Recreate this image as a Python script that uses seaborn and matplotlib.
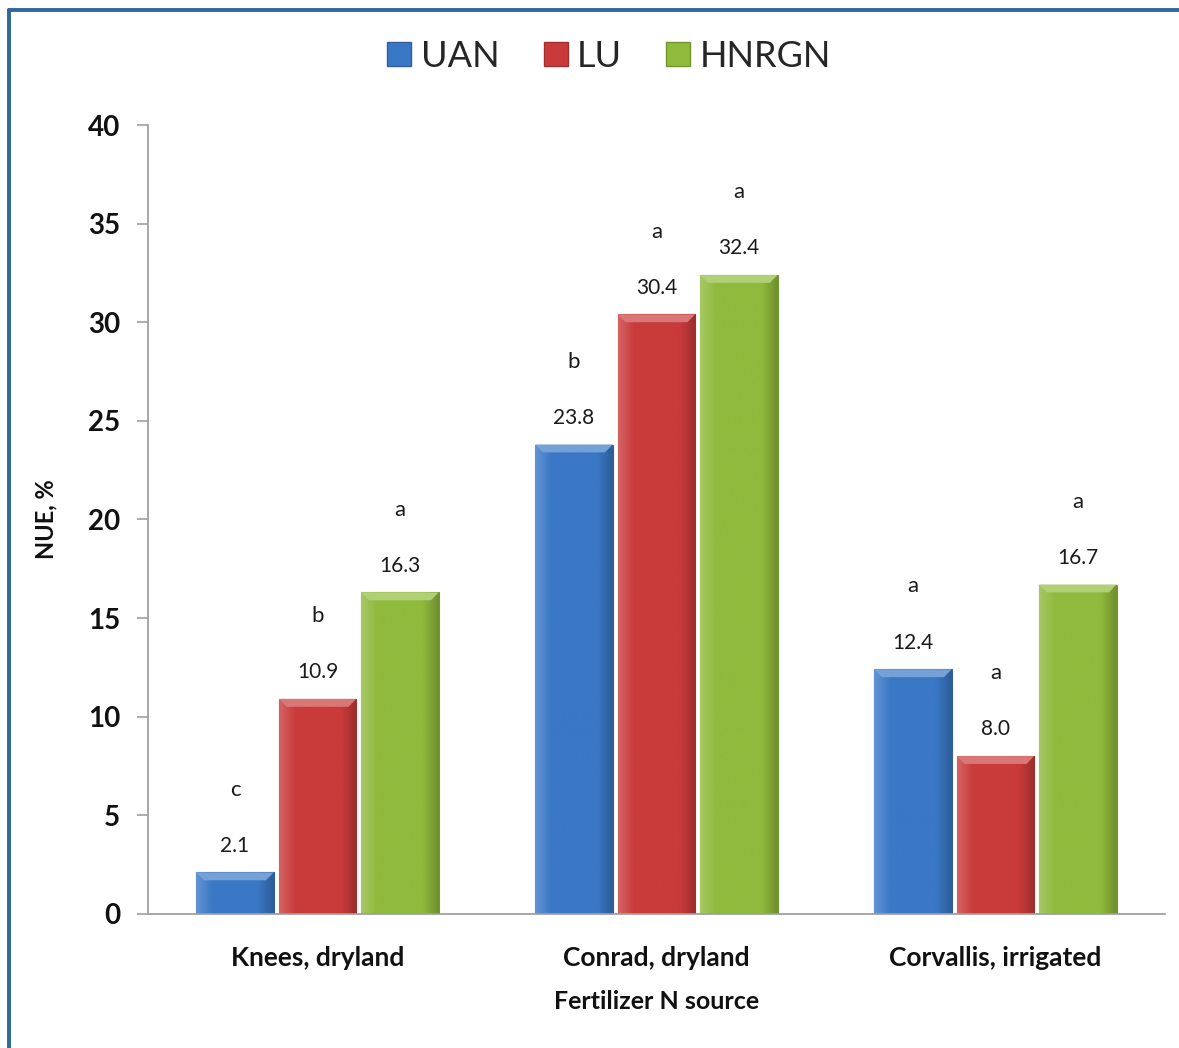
import numpy as np
import pandas as pd
import matplotlib
matplotlib.use("Agg")
import matplotlib.pyplot as plt
import matplotlib.colors as mcolors
from matplotlib.patches import Polygon
from matplotlib.lines import Line2D
import seaborn as sns

# chart data
sites = ["Knees, dryland", "Conrad, dryland", "Corvallis, irrigated"]
sources = ["UAN", "LU", "HNRGN"]
uan = [2.1, 23.8, 12.4]
lu = [10.9, 30.4, 8.0]
hnrgn = [16.3, 32.4, 16.7]
uan_letters = ["c", "b", "a"]
lu_letters = ["b", "a", "a"]
hnrgn_letters = ["a", "a", "a"]
colors = {"UAN": "#3a78c6", "LU": "#c93b3b", "HNRGN": "#8fba3c"}

df = pd.DataFrame({
    "site": sites * 3,
    "source": ["UAN"] * 3 + ["LU"] * 3 + ["HNRGN"] * 3,
    "nue": uan + lu + hnrgn,
    "letter": uan_letters + lu_letters + hnrgn_letters,
})

sns.set_style("white")
plt.rcParams["font.family"] = ["Lato", "DejaVu Sans"]

fig = plt.figure(figsize=(11.79, 10.48), dpi=100)
ax = fig.add_axes([0.1255, 0.128, 0.8625, 0.7527])

sns.barplot(data=df, x="site", y="nue", hue="source", order=sites,
            hue_order=sources, palette=colors, width=0.73, gap=0.06,
            errorbar=None, legend=False, ax=ax, saturation=1)

# bevel-ish shading on each bar
def shade(c, f):
    r = np.array(mcolors.to_rgb(c))
    if f > 0:
        return tuple(r + (1 - r) * f)
    return tuple(r * (1 + f))

bars = [p for p in ax.patches if p.get_height() > 0]
for p in bars:
    base = p.get_facecolor()[:3]
    x0, y0 = p.get_x(), p.get_y()
    w, h = p.get_width(), p.get_height()
    prof = np.concatenate([np.linspace(0.2, 0.0, 8), np.zeros(20), np.linspace(0.0, -0.22, 8)])
    img = np.array([[shade(base, f) for f in prof]])
    im = ax.imshow(img, extent=[x0, x0 + w, y0, y0 + h], aspect="auto",
                   interpolation="bicubic", zorder=p.get_zorder() + 0.1)
    im.set_clip_path(p)
    cap = min(0.4, h * 0.4)
    inset = w * 0.1
    ax.add_patch(Polygon([[x0, y0 + h], [x0 + w, y0 + h],
                          [x0 + w - inset, y0 + h - cap], [x0 + inset, y0 + h - cap]],
                         closed=True, facecolor=shade(base, 0.3), edgecolor="none",
                         zorder=p.get_zorder() + 0.2))
    p.set_edgecolor(shade(base, -0.2))
    p.set_linewidth(0.8)

# value labels and letters
for p in bars:
    xc = p.get_x() + p.get_width() / 2
    h = p.get_height()
    row = df[np.isclose(df["nue"], h)].iloc[0]
    ax.text(xc, h + 1.35, f"{h:.1f}", ha="center", va="center", fontsize=15, color="#1a1a1a")
    ax.text(xc, h + 4.2, row["letter"], ha="center", va="center", fontsize=16, color="#1a1a1a")

ax.set_ylim(0, 40)
ax.set_xlim(-0.5, 2.5)
ax.set_yticks(np.arange(0, 41, 5))
ax.tick_params(axis="y", which="both", left=True, length=8, width=1.2, color="#a0a0a0",
               labelsize=20, pad=12, labelcolor="#111111")
ax.tick_params(axis="x", bottom=False, labelsize=19, pad=20, labelcolor="#111111")
for lab in ax.get_yticklabels() + ax.get_xticklabels():
    lab.set_fontweight("bold")
for s in ["top", "right"]:
    ax.spines[s].set_visible(False)
for s in ["left", "bottom"]:
    ax.spines[s].set_color("#a0a0a0")
    ax.spines[s].set_linewidth(1.3)
ax.set_ylabel("NUE, %", fontsize=17, fontweight="bold", labelpad=22, color="#111111")
ax.set_xlabel("Fertilizer N source", fontsize=18, fontweight="bold", labelpad=14, color="#111111")

handles = [Line2D([], [], marker="s", linestyle="none", markersize=17,
                  markerfacecolor=colors[s], markeredgecolor=shade(colors[s], -0.2))
           for s in sources]
fig.legend(handles, sources, loc="center", bbox_to_anchor=(0.515, 0.946), ncol=3,
           frameon=False, fontsize=26, handletextpad=0.15, columnspacing=1.1,
           handlelength=0.9)

# frame lines like the original slide border
fig.add_artist(Line2D([0.0075, 1.0], [1 - 9.5 / 1048] * 2, transform=fig.transFigure,
                      color="#336699", linewidth=2.8))
fig.add_artist(Line2D([8.5 / 1179] * 2, [0, 1 - 9.5 / 1048], transform=fig.transFigure,
                      color="#336699", linewidth=2.8))

fig.savefig("out.png", dpi=100)
